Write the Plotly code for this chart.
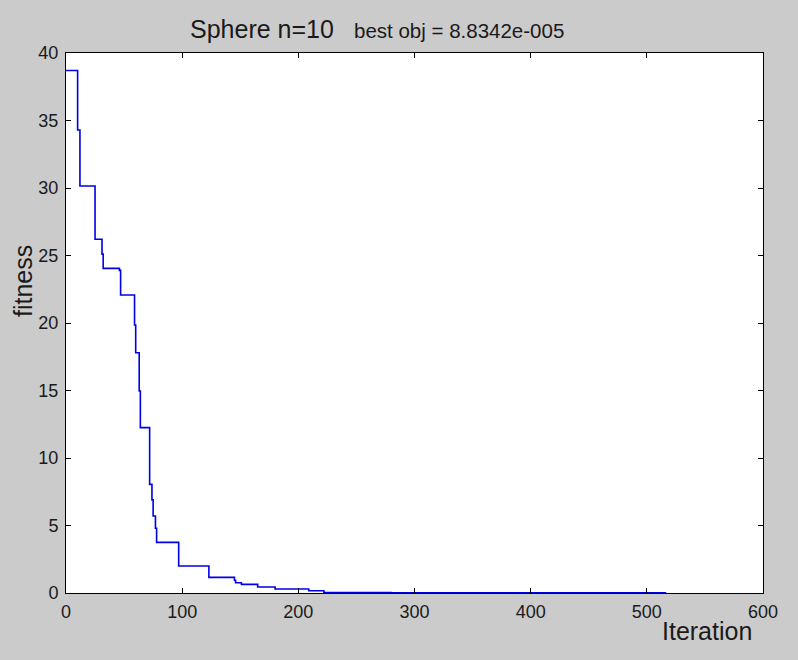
import plotly.graph_objects as go

# Iterations at which the best fitness improved, and the new best value there
iterations = [0, 10, 12, 25, 31, 32, 46, 47, 59, 60, 63, 64, 72, 74, 75, 77, 78,
              97, 123, 145, 146, 151, 165, 180, 209, 222, 280, 516]
fitness = [38.7, 34.3, 30.15, 26.2, 25.1, 24.05, 23.9, 22.07, 19.85, 17.8, 14.96,
           12.25, 8.05, 6.9, 5.7, 4.8, 3.75, 2.0, 1.16, 0.94, 0.76, 0.64, 0.44,
           0.30, 0.17, 0.04, 0.01, 8.8342e-05]

x_ticks = [0, 100, 200, 300, 400, 500, 600]
y_ticks = [0, 5, 10, 15, 20, 25, 30, 35, 40]

problem_title = "Sphere n=10"
best_text = "best obj = 8.8342e-005"

W, H = 798, 660
L, R, T, B = 66, 35, 53, 67
PW, PH = W - L - R, H - T - B


def px_x(px):
    return (px - L) / PW


def px_y(py):
    return 1 - (py - T) / PH


fig = go.Figure()
fig.add_trace(go.Scatter(
    x=iterations, y=fitness, mode="lines",
    line=dict(color="#0000e6", width=1.6, shape="hv"),
    showlegend=False, hoverinfo="skip",
))

tick_font = dict(family="Liberation Sans, Arial, sans-serif", size=18, color="#1a1a1a")
axis_common = dict(
    showgrid=False, zeroline=False, showline=True, linecolor="black", linewidth=1,
    mirror="ticks", ticks="inside", ticklen=5, tickcolor="black", tickwidth=1,
    tickfont=tick_font,
)

fig.update_layout(
    width=W, height=H,
    margin=dict(l=L, r=R, t=T, b=B, pad=0),
    paper_bgcolor="#cbcbcb", plot_bgcolor="white",
    xaxis=dict(range=[0, 600], tickvals=x_ticks, ticklabelstandoff=2, **axis_common),
    yaxis=dict(range=[0, 40], tickvals=y_ticks, ticklabelstandoff=3, **axis_common),
    annotations=[
        dict(text=problem_title, xref="paper", yref="paper",
             x=px_x(336), y=px_y(29), xanchor="right", yanchor="middle",
             showarrow=False,
             font=dict(family="Liberation Sans, Arial, sans-serif", size=25, color="#1a1a1a")),
        dict(text=best_text, xref="paper", yref="paper",
             x=px_x(352), y=px_y(30), xanchor="left", yanchor="middle",
             showarrow=False,
             font=dict(family="Liberation Sans, Arial, sans-serif",
                       size=20.5, color="#1a1a1a")),
        dict(text="Iteration", xref="paper", yref="paper",
             x=px_x(707), y=px_y(631), xanchor="center", yanchor="middle",
             showarrow=False,
             font=dict(family="Liberation Sans, Arial, sans-serif", size=25, color="#1a1a1a")),
        dict(text="fitness", xref="paper", yref="paper",
             x=px_x(23), y=px_y(281), xanchor="center", yanchor="middle",
             textangle=-90, showarrow=False,
             font=dict(family="Liberation Sans, Arial, sans-serif", size=25, color="#1a1a1a")),
    ],
)

fig.write_html("out.html")
